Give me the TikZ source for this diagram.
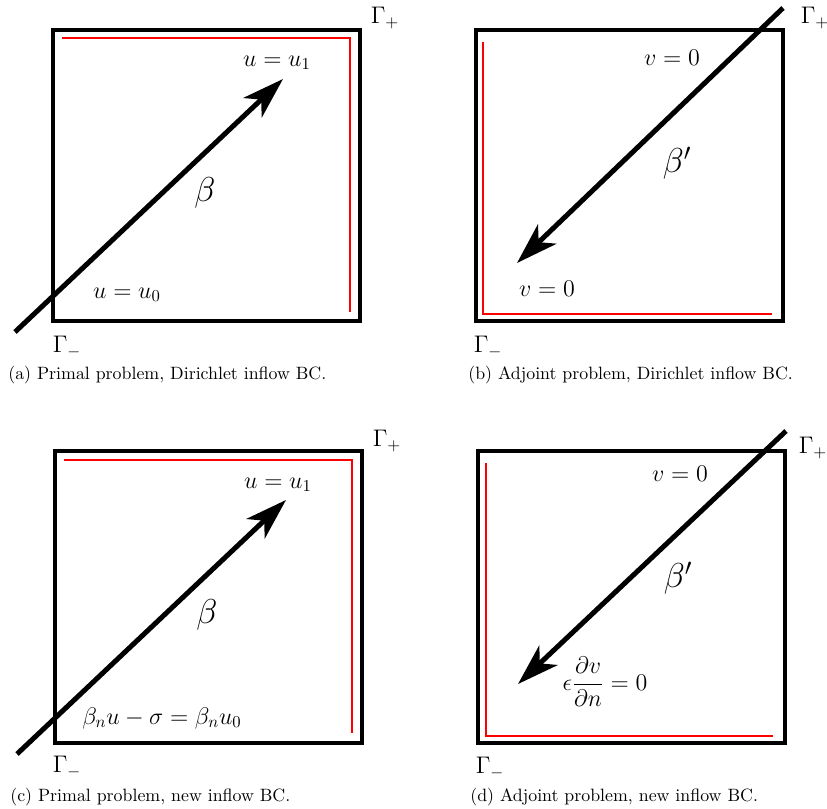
\documentclass[tikz,border=0pt]{standalone}
\usepackage{amsmath}
\usetikzlibrary{arrows.meta}
\begin{document}
\begin{tikzpicture}[x=0.6pt,y=-0.6pt,
  frame/.style={draw=black,line width=2.4pt},
  redbc/.style={draw=red,line width=1.2pt},
  flow/.style={draw=black,line width=3pt,-{Stealth[length=25pt,width=16pt,inset=7pt]}},
  lab/.style={inner sep=0pt,font=\fontsize{14.3}{16}\selectfont},
  gam/.style={inner sep=0pt,font=\fontsize{14.5}{16}\selectfont},
  bet/.style={inner sep=0pt,font=\fontsize{20}{24}\selectfont},
  captext/.style={inner sep=0pt,anchor=west,font=\fontsize{10.7}{12}\selectfont}]
\useasboundingbox (0,0) rectangle (827,809);
% ---------- (a)
\draw[frame] (53,30) rectangle (360,321);
\draw[redbc] (62,38) -- (350,38) -- (350,312);
\coordinate (a0) at (15,332);
\coordinate (a1) at (283,79);
\draw[flow] (a0) -- (a1);
\node[lab] (au1) at (277,63) {$u=u_1$};
\node[lab] (au0) at (127,295) {$u=u_0$};
\node[bet] (ab) at (205,193) {$\beta$};
\node[gam] (agp) at (385,18) {$\Gamma_+$};
\node[gam] (agm) at (67,347) {$\Gamma_-$};
\node[captext] (acap) at (8,375) {(a) Primal problem, Dirichlet inflow BC.};
% ---------- (b)
\draw[frame] (476,30) rectangle (783,321);
\draw[redbc] (483,42) -- (483,314) -- (772,314);
\coordinate (b0) at (783,8);
\coordinate (b1) at (517,263);
\draw[flow] (b0) -- (b1);
\node[lab] (bv1) at (672,58) {$v=0$};
\node[lab] (bv0) at (547,289) {$v=0$};
\node[bet] (bb) at (677,163) {$\beta'$};
\node[gam] (bgp) at (815,18) {$\Gamma_+$};
\node[gam] (bgm) at (488,347) {$\Gamma_-$};
\node[captext] (bcap) at (468,375) {(b) Adjoint problem, Dirichlet inflow BC.};
% ---------- (c)
\draw[frame] (55,451) rectangle (362,743);
\draw[redbc] (64,460) -- (352,460) -- (352,733);
\coordinate (c0) at (17,754);
\coordinate (c1) at (286,500);
\draw[flow] (c0) -- (c1);
\node[lab] (cu1) at (278,485) {$u=u_1$};
\node[lab] (cu0) at (162,718) {$\beta_n u-\sigma=\beta_n u_0$};
\node[bet] (cb) at (207,615) {$\beta$};
\node[gam] (cgp) at (387,441) {$\Gamma_+$};
\node[gam] (cgm) at (67,767) {$\Gamma_-$};
\node[captext] (ccap) at (10,797) {(c) Primal problem, new inflow BC.};
% ---------- (d)
\draw[frame] (478,451) rectangle (785,743);
\draw[redbc] (486,463) -- (486,736) -- (773,736);
\coordinate (d0) at (786,431);
\coordinate (d1) at (518,684);
\draw[flow] (d0) -- (d1);
\node[lab] (dv1) at (680,474) {$v=0$};
\node[lab] (dv0) at (605,682) {$\epsilon\dfrac{\partial v}{\partial n}=0$};
\node[bet] (db) at (678,578) {$\beta'$};
\node[gam] (dgp) at (813,448) {$\Gamma_+$};
\node[gam] (dgm) at (490,768) {$\Gamma_-$};
\node[captext] (dcap) at (470,797) {(d) Adjoint problem, new inflow BC.};
\end{tikzpicture}
\end{document}
